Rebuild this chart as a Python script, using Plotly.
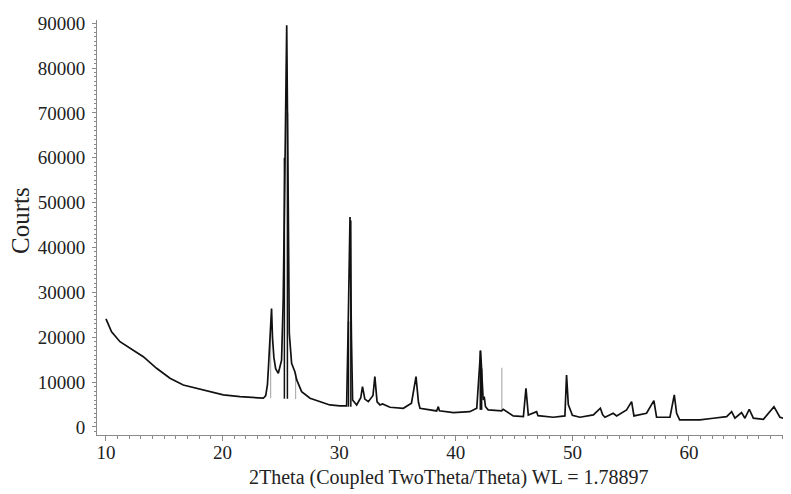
import plotly.graph_objects as go

two_theta = [10.0, 10.48, 11.2, 12.06, 13.2, 14.34, 15.49, 16.63, 17.78, 18.92, 20.06, 21.49, 22.5, 23.5,
             23.7, 23.85, 23.95, 24.05, 24.12, 24.2, 24.28, 24.4, 24.55, 24.78, 25.06, 25.2, 25.35, 25.5,
             25.63, 25.72, 25.92, 26.2, 26.36, 26.78, 27.5, 28.35, 29.2, 30.07, 30.64, 30.78, 30.93, 31.05,
             31.15, 31.5, 31.85, 32.0, 32.2, 32.5, 32.9, 33.06, 33.25, 33.5, 33.72, 34.36, 35.5, 36.2,
             36.59, 36.8, 36.93, 38.36, 38.5, 38.6, 39.8, 41.2, 41.8, 42.13, 42.25, 42.35, 42.44, 42.55,
             42.78, 43.93, 44.07, 44.93, 45.8, 46.02, 46.22, 46.93, 47.05, 48.36, 49.36, 49.5, 49.65, 49.8,
             50.0, 50.65, 51.8, 52.4, 52.6, 52.8, 53.5, 53.8, 54.65, 55.08, 55.28, 56.36, 56.99, 57.22,
             58.37, 58.74, 58.94, 59.2, 60.94, 62.08, 63.23, 63.66, 63.94, 64.51, 64.8, 65.17, 65.52, 66.38,
             67.29, 67.8, 68.75]
counts = [24100, 21200, 19000, 17500, 15650, 13070, 10840, 9350, 8620, 7860, 7130, 6750, 6600, 6400,
          7000, 9500, 14000, 19500, 21000, 26400, 20000, 15500, 13000, 11950, 14900, 28300, 58000, 89500,
          50500, 20900, 14200, 12300, 10470, 7860, 6400, 5630, 4900, 4680, 4680, 23450, 46800, 20000,
          6000, 4900, 6500, 8980, 6200, 5630, 7000, 11200, 5600, 4900, 5120, 4390, 4160, 5280,
          11200, 5500, 4160, 3560, 4520, 3600, 3180, 3400, 4160, 17000, 12000, 6000, 6750, 4500,
          3790, 3560, 3940, 2450, 2300, 8620, 2670, 3400, 2500, 2160, 2450, 11580, 5000, 3940,
          2600, 2160, 2670, 4160, 2700, 2160, 3050, 2450, 3790, 5630, 2450, 3050, 5860, 2160,
          2160, 7130, 3050, 1560, 1560, 1940, 2300, 3400, 1940, 3180, 1940, 3940, 1940, 1710,
          4520, 2160, 1400]

# reference stick lines (position, bottom, top)
grey_pos = [24.12, 26.26, 43.95]
grey_lo = [6400, 6200, 3500]
grey_hi = [20900, 12000, 13200]
black_pos = [25.3, 25.56, 30.8, 31.0, 42.1, 42.22]
black_lo = [6300, 6300, 4500, 4500, 3800, 3800]
black_hi = [60000, 70000, 23500, 46000, 17000, 13000]

x_ticks = [10, 20, 30, 40, 50, 60]
y_ticks = [0, 10000, 20000, 30000, 40000, 50000, 60000, 70000, 80000, 90000]


def sticks(pos, lo, hi):
    xs, ys = [], []
    for p, a, b in zip(pos, lo, hi):
        xs += [p, p, None]
        ys += [a, b, None]
    return xs, ys


fig = go.Figure()
gx, gy = sticks(grey_pos, grey_lo, grey_hi)
fig.add_trace(go.Scatter(x=gx, y=gy, mode="lines", line=dict(color="#b0b0b0", width=1.2),
                         hoverinfo="skip", showlegend=False))
bx, by = sticks(black_pos, black_lo, black_hi)
fig.add_trace(go.Scatter(x=bx, y=by, mode="lines", line=dict(color="#111111", width=1.5),
                         hoverinfo="skip", showlegend=False))
fig.add_trace(go.Scatter(x=two_theta, y=counts, mode="lines",
                         line=dict(color="#111111", width=1.7), showlegend=False))

font_family = "Liberation Serif, Times New Roman, serif"
fig.update_layout(
    width=783, height=486,
    margin=dict(l=89, r=0, t=12, b=59, autoexpand=False),
    paper_bgcolor="white", plot_bgcolor="white",
    font=dict(family=font_family, color="#222222", size=19),
    xaxis=dict(
        range=[9.23, 68.75], tickvals=x_ticks, ticktext=[str(v) for v in x_ticks],
        showgrid=False, zeroline=False, showline=True, linecolor="#8a8a8a", linewidth=1,
        ticks="outside", ticklen=5, tickcolor="#8a8a8a", tickwidth=1, automargin=False,
        ticklabelstandoff=-5,
        minor=dict(dtick=1, tick0=0, ticks="outside", ticklen=3, tickcolor="#8a8a8a", showgrid=False),
        tickfont=dict(size=19, family=font_family, color="#222222"),
    ),
    yaxis=dict(
        range=[-1800, 90700], tickvals=y_ticks, ticktext=[str(v) for v in y_ticks],
        showgrid=False, zeroline=False, showline=True, linecolor="#8a8a8a", linewidth=1,
        ticks="outside", ticklen=4, tickcolor="#8a8a8a", tickwidth=1, automargin=False,
        ticklabelstandoff=3,
        minor=dict(dtick=1000, tick0=0, ticks="outside", ticklen=2, tickcolor="#8a8a8a", showgrid=False),
        tickfont=dict(size=19, family=font_family, color="#222222"),
    ),
    annotations=[
        dict(text="2Theta (Coupled TwoTheta/Theta) WL = 1.78897", xref="paper", yref="paper",
             x=0.507, y=-0.1036, xanchor="center", yanchor="middle", showarrow=False,
             font=dict(size=20, family=font_family, color="#222222")),
        dict(text="Courts", xref="paper", yref="paper", x=-0.1110, y=0.518,
             xanchor="center", yanchor="middle", textangle=-90, showarrow=False,
             font=dict(size=25, family=font_family, color="#222222")),
    ],
)

fig.write_html("out.html")
